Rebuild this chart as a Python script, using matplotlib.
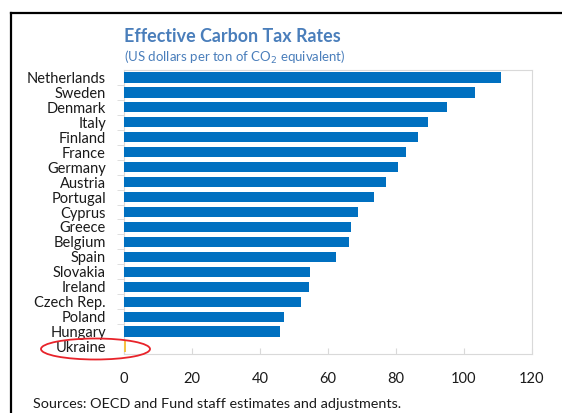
import matplotlib.pyplot as plt
from matplotlib.patches import Ellipse
from matplotlib.lines import Line2D

countries = ["Netherlands", "Sweden", "Denmark", "Italy", "Finland", "France",
             "Germany", "Austria", "Portugal", "Cyprus", "Greece", "Belgium",
             "Spain", "Slovakia", "Ireland", "Czech Rep.", "Poland", "Hungary",
             "Ukraine"]
tax_rates = [110.9, 103.1, 95.1, 89.5, 86.5, 83.0, 80.7, 77.1, 73.5, 68.7,
             66.9, 66.2, 62.4, 54.7, 54.5, 52.0, 47.0, 45.9, 0.6]
x_ticks = [0, 20, 40, 60, 80, 100, 120]

blue = "#0070C0"
gold = "#F5C242"
title_blue = "#4A7EBB"
frame_gray = "#D9D9D9"

plt.rcParams['font.family'] = ['Lato', 'DejaVu Sans']

fig = plt.figure(figsize=(5.62, 4.13), dpi=100)
W, H = 562, 413
ax = fig.add_axes([124 / W, 1 - 354 / H, 408 / W, 284 / H])

colors = [blue] * (len(countries) - 1) + [gold]
ypos = list(range(len(countries)))
ax.barh(ypos, tax_rates, height=0.68, color=colors, edgecolor='none', zorder=3)

ax.set_ylim(len(countries) - 0.5, -0.5)
ax.set_xlim(0, 120)

ax.set_yticks(ypos)
ax.set_yticklabels(countries, fontsize=10.5, color="#1a1a1a")
ax.set_yticks([y + 0.5 for y in ypos[:-1]], minor=True)
ax.tick_params(axis='y', which='major', length=0, pad=13)
ax.tick_params(axis='y', which='minor', length=5, color=frame_gray, direction='out')

ax.set_xticks(x_ticks)
ax.set_xticklabels([str(t) for t in x_ticks], fontsize=10.5, color="#1a1a1a")
ax.tick_params(axis='x', length=4, color=frame_gray, direction='in', pad=13)

for s in ax.spines.values():
    s.set_color(frame_gray)
    s.set_linewidth(0.8)

fig.text(124 / W, 1 - 36 / H, "Effective Carbon Tax Rates", fontsize=12.9,
         fontweight='bold', color=title_blue, va='center', ha='left')
fig.text(124 / W, 1 - 57 / H, "(US dollars per ton of CO$_2$ equivalent)",
         fontsize=9.5, color=title_blue, va='center', ha='left')
fig.text(33 / W, 1 - 404 / H,
         "Sources: OECD and Fund staff estimates and adjustments.",
         fontsize=10.4, color="#1a1a1a", va='center', ha='left')

# highlight ellipse around Ukraine
ell = Ellipse((95.5 / W, 1 - 349 / H), 109 / W, 21 / H, transform=fig.transFigure,
              fill=False, edgecolor="#E8232A", linewidth=1.3)
fig.patches.append(ell)

# black frame of the screenshot
fig.add_artist(Line2D([11 / W, 11 / W], [0, 1 - 13 / H], color='black', linewidth=1.6,
                      transform=fig.transFigure))
fig.add_artist(Line2D([11 / W, 1], [1 - 13 / H, 1 - 13 / H], color='black', linewidth=1.6,
                      transform=fig.transFigure))

fig.savefig("out.png", dpi=100)
